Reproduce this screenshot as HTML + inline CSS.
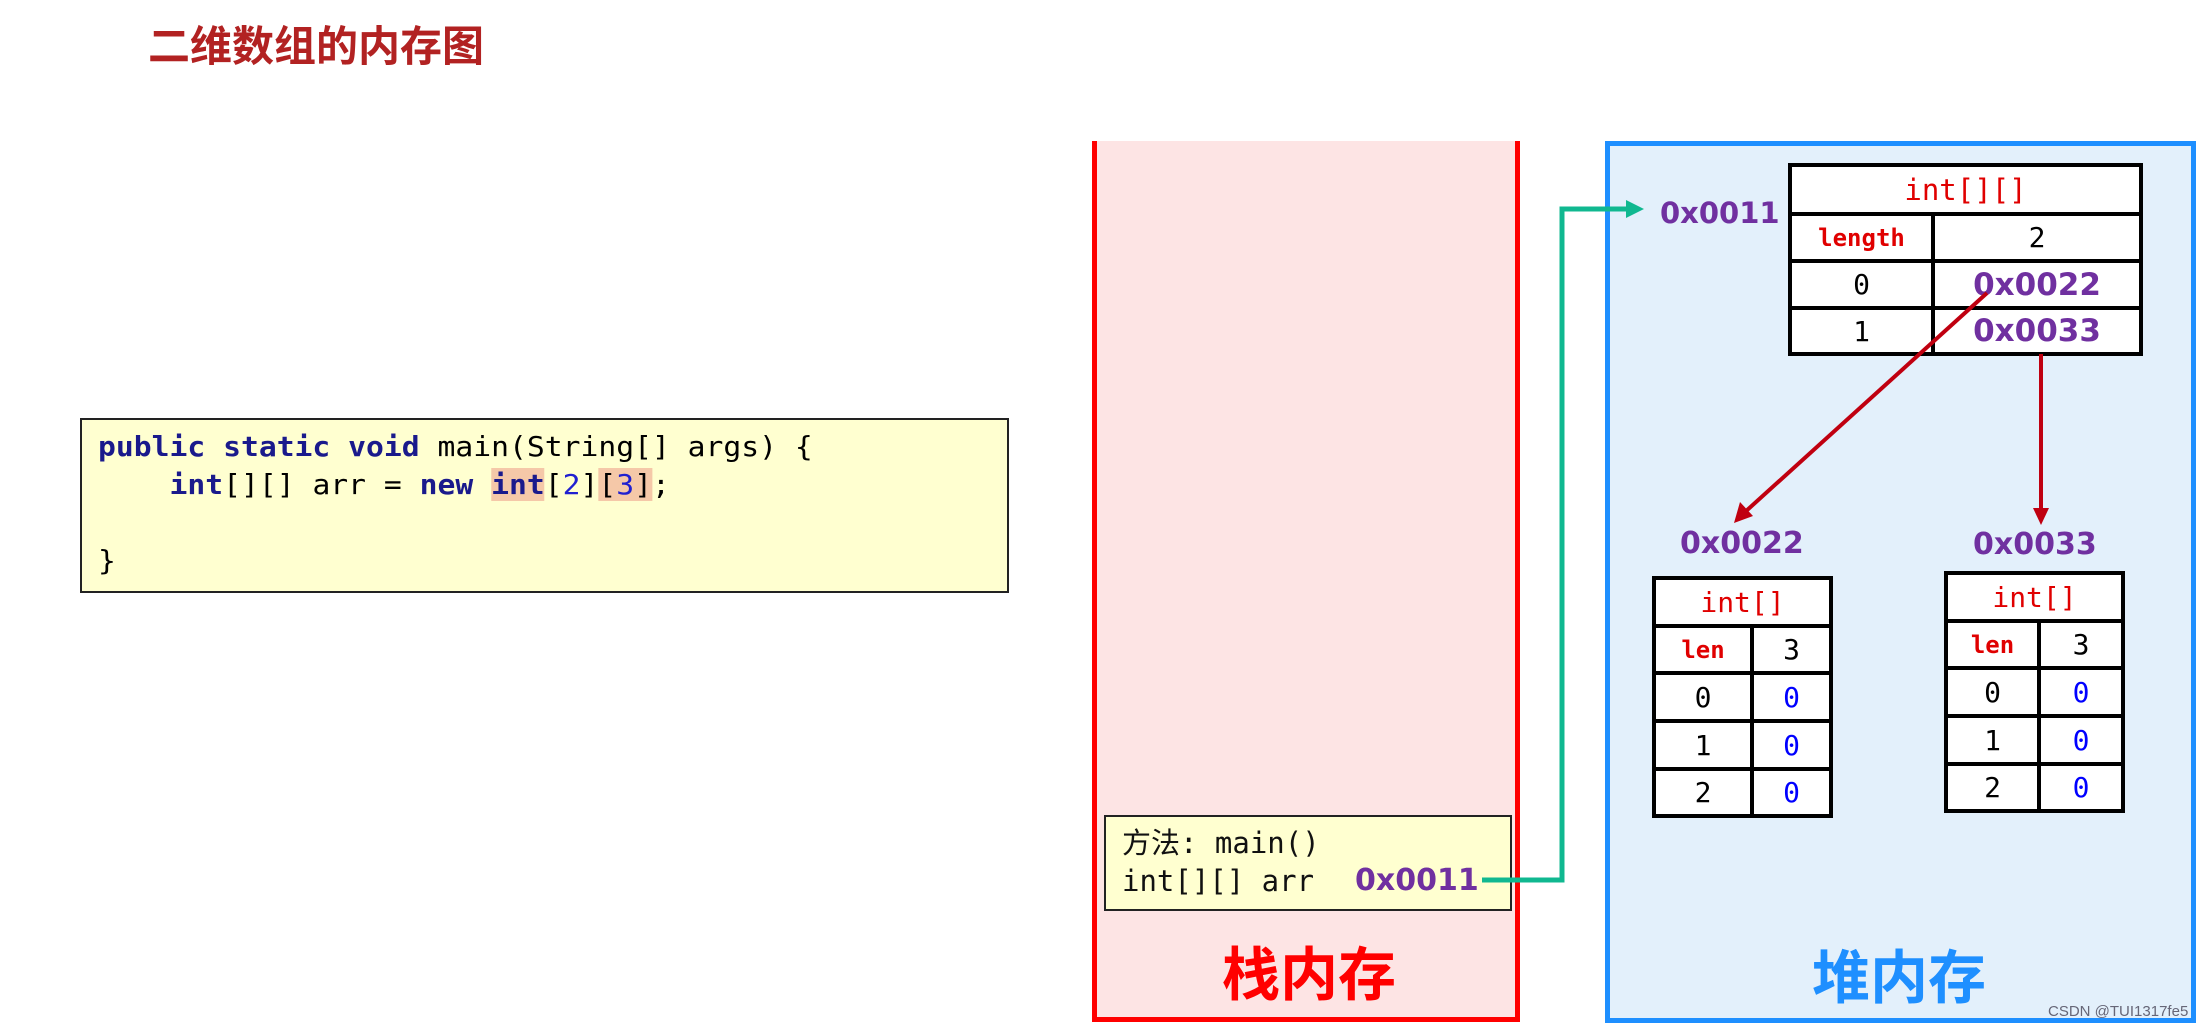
<!DOCTYPE html>
<html><head><meta charset="utf-8"><style>
*{margin:0;padding:0;box-sizing:border-box}
body{width:2210px;height:1027px;background:#fff;position:relative;overflow:hidden;font-family:"Liberation Sans","Noto Sans CJK SC",sans-serif}
.a{position:absolute}
table{border-collapse:collapse;position:absolute;background:#fff}
td{border:4px solid #000;text-align:center;font-family:"DejaVu Sans Mono","Liberation Mono",monospace;padding:0}
.p{color:#7030a0;font-weight:bold;font-family:"DejaVu Sans","Liberation Sans",sans-serif}
.r{color:#e00000}
.b{color:#0000ff}
</style></head><body>
<div class="a" style="left:148px;top:16px;font-size:42px;font-weight:bold;color:#b22222;font-family:'Noto Sans CJK SC',sans-serif;line-height:56px">二维数组的内存图</div>

<div class="a" style="left:80px;top:418px;width:929px;height:175px;background:#ffffd0;border:2px solid #222"></div>
<div class="a" style="left:98px;top:428px;font-size:28px;line-height:38px;color:#000;white-space:pre;font-family:'DejaVu Sans Mono',monospace;transform:scaleX(1.06);transform-origin:0 0"><b style="color:#1a1a8c">public static void</b> main(String[] args) {
    <b style="color:#1a1a8c">int</b>[][] arr = <b style="color:#1a1a8c">new</b> <b style="color:#1a1a8c;background:#f5c8a8">int</b>[<span style="color:#2020d0">2</span>]<span style="background:#f5c8a8">[<span style="color:#2020d0">3</span>]</span>;

}</div>

<!-- stack -->
<div class="a" style="left:1092px;top:141px;width:428px;height:881px;background:#fde4e4;border:5px solid #f00;border-top:none"></div>
<div class="a" style="left:1104px;top:815px;width:408px;height:96px;background:#ffffd0;border:2px solid #222"></div>
<div class="a" style="left:1122px;top:824px;font-size:29px;line-height:38px;color:#111;font-family:'DejaVu Sans Mono','Noto Sans CJK SC',monospace;white-space:pre">方法: main()
int[][] arr</div>
<div class="a p" style="left:1355px;top:862px;font-size:30px;line-height:38px">0x0011</div>
<div class="a" style="left:1222px;top:935px;font-size:58px;font-weight:bold;color:#f00;font-family:'Noto Sans CJK SC',sans-serif;line-height:70px">栈内存</div>

<!-- heap -->
<div class="a" style="left:1605px;top:141px;width:591px;height:882px;background:#e3f0fb;border:5px solid #1e8fff"></div>
<div class="a" style="left:1812px;top:938px;font-size:58px;font-weight:bold;color:#1e8fff;font-family:'Noto Sans CJK SC',sans-serif;line-height:70px">堆内存</div>
<div class="a p" style="left:1660px;top:196px;font-size:29px">0x0011</div>

<table style="left:1788px;top:163px;width:355px;height:189px">
<tr style="height:49px"><td colspan="2" class="r" style="font-size:29px">int[][]</td></tr>
<tr style="height:47px"><td class="r" style="width:143px;font-size:24px;font-weight:bold">length</td><td style="font-size:28px">2</td></tr>
<tr style="height:47px"><td style="font-size:28px">0</td><td class="p" style="font-size:31px">0x0022</td></tr>
<tr style="height:46px"><td style="font-size:28px">1</td><td class="p" style="font-size:31px">0x0033</td></tr>
</table>

<div class="a p" style="left:1680px;top:526px;font-size:30px">0x0022</div>
<div class="a p" style="left:1973px;top:527px;font-size:30px">0x0033</div>

<table style="left:1652px;top:576px;width:181px;height:238px">
<tr style="height:48px"><td colspan="2" class="r" style="font-size:28px">int[]</td></tr>
<tr style="height:47px"><td class="r" style="width:98px;font-size:24px;font-weight:bold">len</td><td style="font-size:28px">3</td></tr>
<tr style="height:48px"><td style="font-size:28px">0</td><td class="b" style="font-size:28px">0</td></tr>
<tr style="height:48px"><td style="font-size:28px">1</td><td class="b" style="font-size:28px">0</td></tr>
<tr style="height:47px"><td style="font-size:28px">2</td><td class="b" style="font-size:28px">0</td></tr>
</table>
<table style="left:1944px;top:571px;width:181px;height:238px">
<tr style="height:48px"><td colspan="2" class="r" style="font-size:28px">int[]</td></tr>
<tr style="height:47px"><td class="r" style="width:93px;font-size:24px;font-weight:bold">len</td><td style="font-size:28px">3</td></tr>
<tr style="height:48px"><td style="font-size:28px">0</td><td class="b" style="font-size:28px">0</td></tr>
<tr style="height:48px"><td style="font-size:28px">1</td><td class="b" style="font-size:28px">0</td></tr>
<tr style="height:47px"><td style="font-size:28px">2</td><td class="b" style="font-size:28px">0</td></tr>
</table>

<svg class="a" style="left:0;top:0" width="2210" height="1027">
<polyline points="1482,880 1562,880 1562,209 1630,209" fill="none" stroke="#10b890" stroke-width="5"/>
<polygon points="1644,209 1626,200 1626,218" fill="#10b890"/>
<line x1="1987" y1="293" x2="1745" y2="512" stroke="#c00010" stroke-width="4"/>
<polygon points="1734,523 1740,502 1753,516" fill="#c00010"/>
<line x1="2041" y1="354" x2="2041" y2="512" stroke="#c00010" stroke-width="4"/>
<polygon points="2041,525 2033,508 2049,508" fill="#c00010"/>
</svg>
<div class="a" style="left:2048px;top:1003px;font-size:15px;color:#667">CSDN @TUI1317fe5</div>
</body></html>
